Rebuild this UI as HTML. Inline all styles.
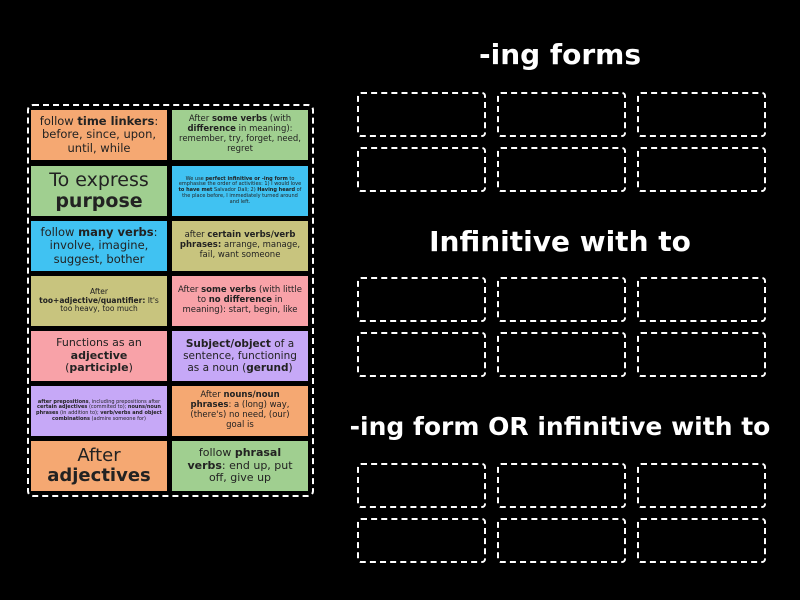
<!DOCTYPE html>
<html><head><style>
body{margin:0;width:800px;height:600px;background:#000;font-family:"DejaVu Sans","Liberation Sans",sans-serif;position:relative;overflow:hidden}
.cont{position:absolute;left:27px;top:104px;width:283px;height:389px;border:2px dashed #fff;border-radius:6px}
.c{position:absolute;width:136px;height:50px;display:flex;align-items:center;justify-content:center;text-align:center;color:#222;line-height:1.15;box-sizing:border-box;padding:1px 5px}
.c span{display:block}
.o{background:#f5a872}.g{background:#a0cf90}.b{background:#40c2f2}.y{background:#c8c47e}.p{background:#f8a2a8}.v{background:#c6a8f7}
.t{position:absolute;color:#fff;font-weight:bold;text-align:center;left:340px;width:440px}
.d{position:absolute;width:125px;height:41px;border:2px dashed #fff;border-radius:4px}
</style></head><body>
<div class="cont"></div>
<div class="c o" style="left:31px;top:110px;font-size:11.5px"><span>follow <b>time linkers</b>: before, since, upon, until, while</span></div>
<div class="c g" style="left:172px;top:110px;font-size:8.5px"><span>After <b>some verbs</b> (with <b>difference</b> in meaning): remember, try, forget, need, regret</span></div>
<div class="c g" style="left:31px;top:166px;font-size:19px;line-height:1.1"><span>To express <b>purpose</b></span></div>
<div class="c b" style="left:172px;top:166px;font-size:5px"><span>We use <b>perfect infinitive or -ing form</b> to emphasise the order of activities: 1) I would love <b>to have met</b> Salvador Dali; 2) <b>Having heard</b> of the place before, I immediately turned around and left.</span></div>
<div class="c b" style="left:31px;top:221px;font-size:11.5px"><span>follow <b>many verbs</b>: involve, imagine, suggest, bother</span></div>
<div class="c y" style="left:172px;top:221px;font-size:8.5px"><span>after <b>certain verbs/verb phrases:</b> arrange, manage, fail, want someone</span></div>
<div class="c y" style="left:31px;top:276px;font-size:7.5px"><span>After <b>too+adjective/quantifier:</b> It's too heavy, too much</span></div>
<div class="c p" style="left:172px;top:276px;font-size:8.5px"><span>After <b>some verbs</b> (with little to <b>no difference</b> in meaning): start, begin, like</span></div>
<div class="c p" style="left:31px;top:331px;font-size:11px;padding:1px 12px"><span>Functions as an <b>adjective</b> (<b>participle</b>)</span></div>
<div class="c v" style="left:172px;top:331px;font-size:10.5px"><span><b>Subject/object</b> of a sentence, functioning as a noun (<b>gerund</b>)</span></div>
<div class="c v" style="left:31px;top:386px;font-size:5px"><span><b>after prepositions</b>, including prepositions after <b>certain adjectives</b> (commited to); <b>nouns/noun phrases</b> (in addition to); <b>verb/verbs and object combinations</b> (admire someone for)</span></div>
<div class="c o" style="left:172px;top:386px;font-size:8.5px;padding:1px 12px"><span>After <b>nouns/noun phrases</b>: a (long) way, (there's) no need, (our) goal is</span></div>
<div class="c o" style="left:31px;top:441px;font-size:18px;line-height:1.1"><span>After <b>adjectives</b></span></div>
<div class="c g" style="left:172px;top:441px;font-size:11px;padding:1px 10px"><span>follow <b>phrasal verbs</b>: end up, put off, give up</span></div>

<div class="t" style="top:38px;font-size:28px">-ing forms</div>
<div class="t" style="top:225px;font-size:28px">Infinitive with to</div>
<div class="t" style="top:412px;font-size:25px">-ing form OR infinitive with to</div>

<div class="d" style="left:357px;top:92px"></div><div class="d" style="left:497px;top:92px"></div><div class="d" style="left:637px;top:92px"></div>
<div class="d" style="left:357px;top:147px"></div><div class="d" style="left:497px;top:147px"></div><div class="d" style="left:637px;top:147px"></div>
<div class="d" style="left:357px;top:277px"></div><div class="d" style="left:497px;top:277px"></div><div class="d" style="left:637px;top:277px"></div>
<div class="d" style="left:357px;top:332px"></div><div class="d" style="left:497px;top:332px"></div><div class="d" style="left:637px;top:332px"></div>
<div class="d" style="left:357px;top:463px"></div><div class="d" style="left:497px;top:463px"></div><div class="d" style="left:637px;top:463px"></div>
<div class="d" style="left:357px;top:518px"></div><div class="d" style="left:497px;top:518px"></div><div class="d" style="left:637px;top:518px"></div>
</body></html>
